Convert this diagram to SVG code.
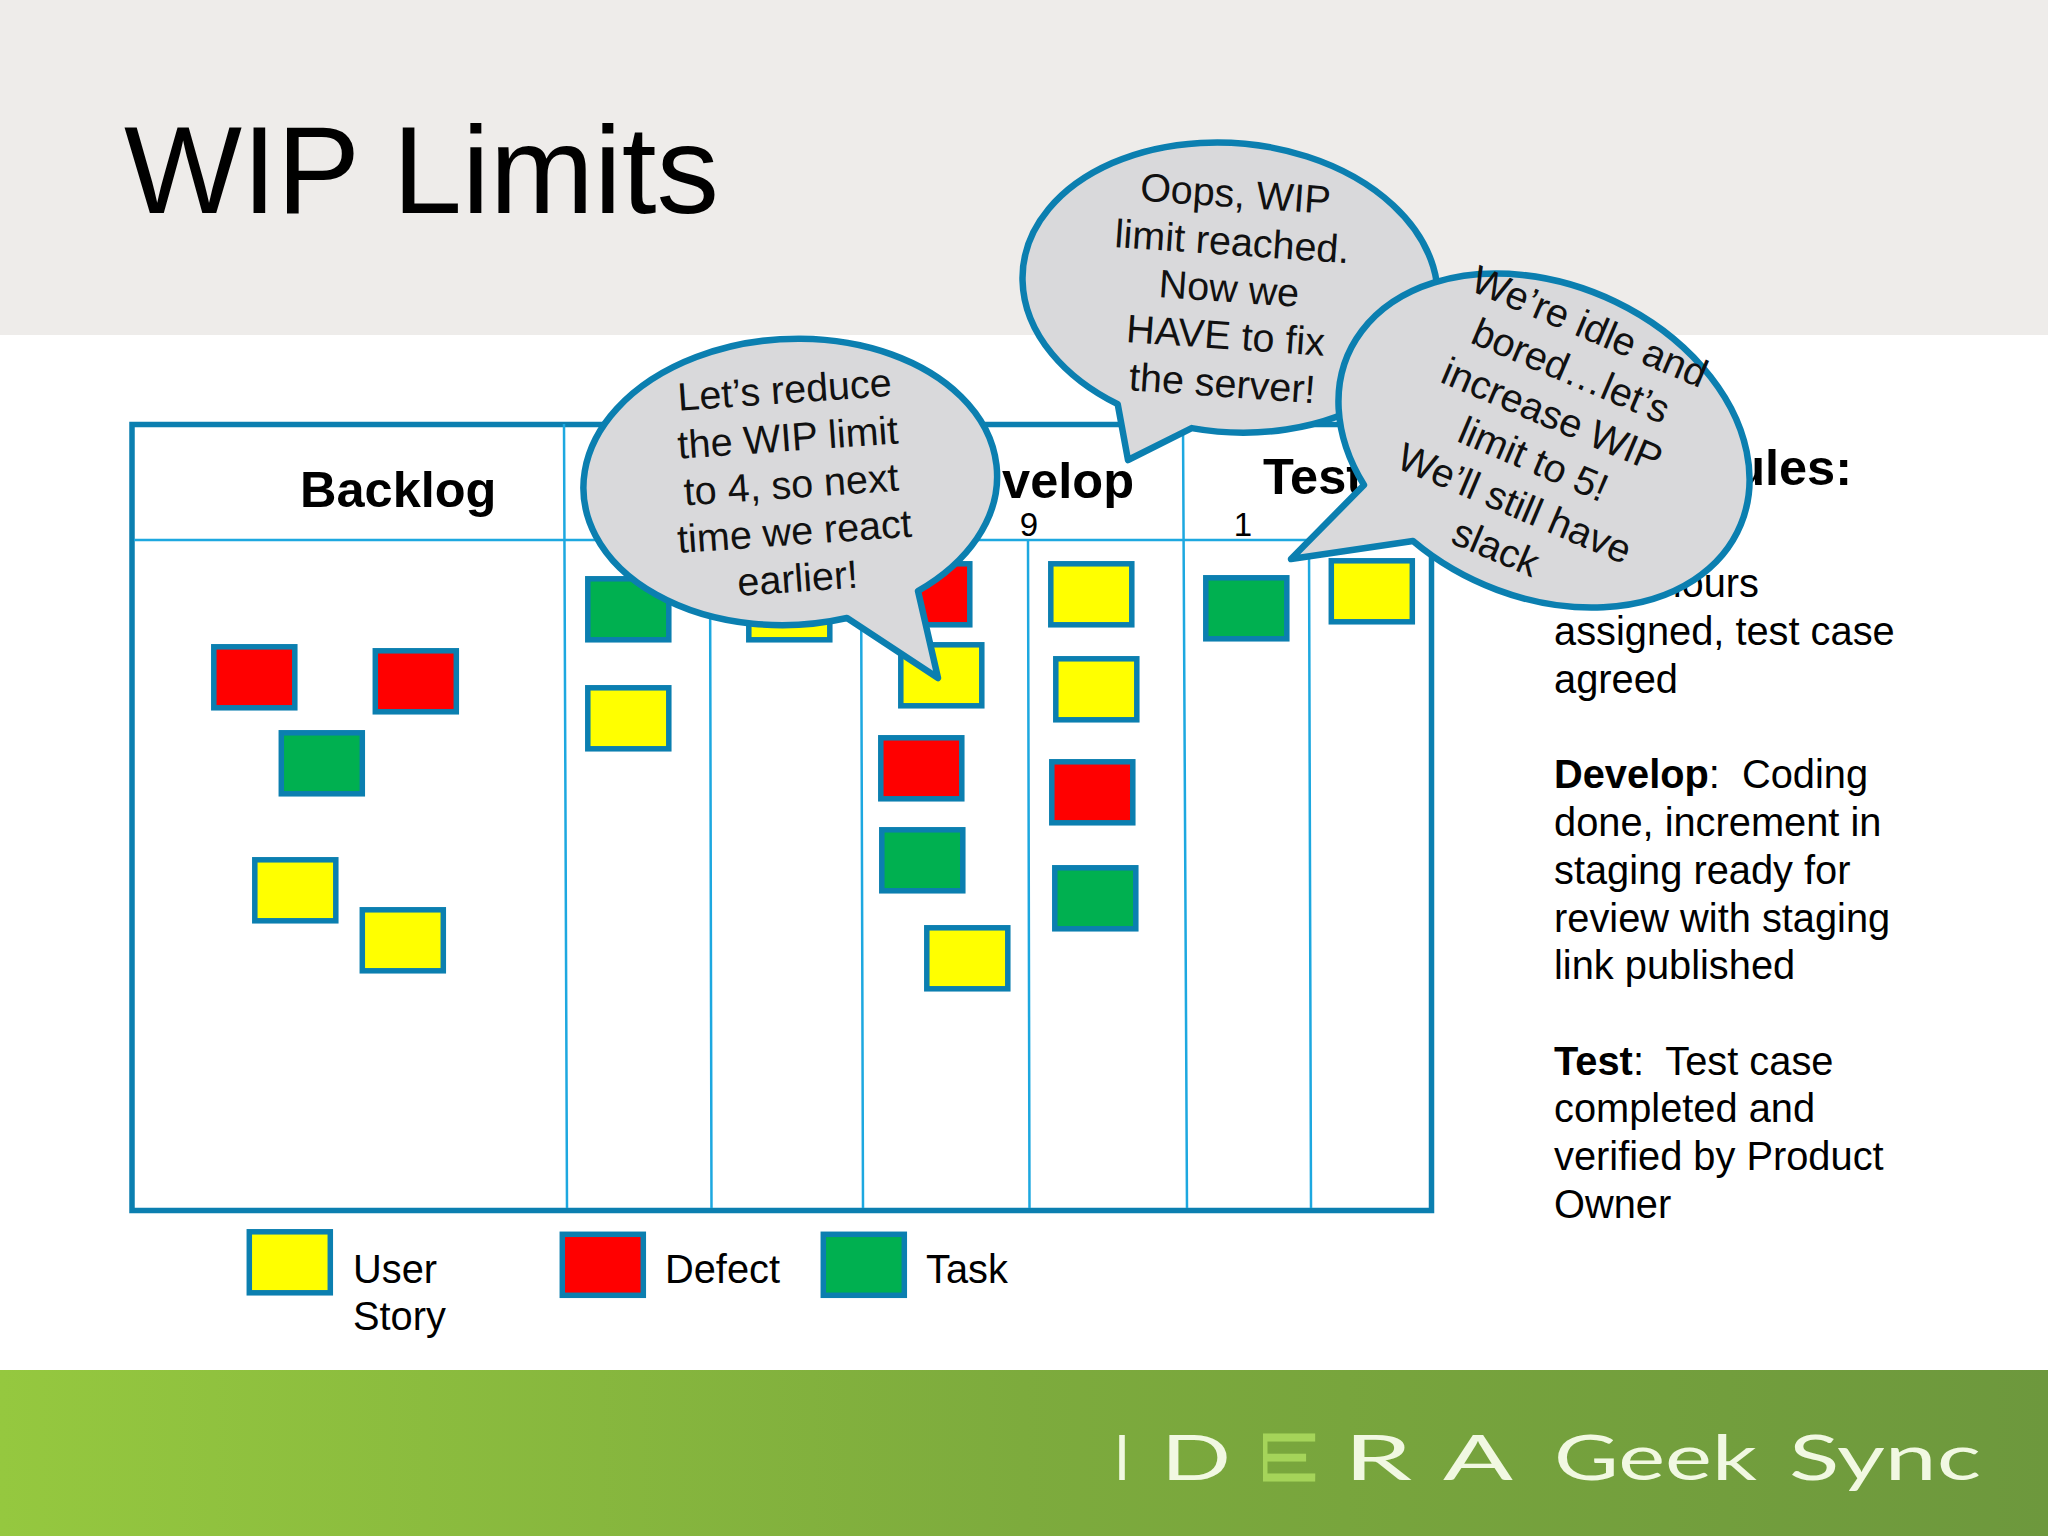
<svg xmlns="http://www.w3.org/2000/svg" width="2048" height="1536" viewBox="0 0 2048 1536">
<defs>
<linearGradient id="foot" x1="0" y1="0" x2="1" y2="0"><stop offset="0" stop-color="#95c83f"/><stop offset="0.5" stop-color="#7dab3d"/><stop offset="1" stop-color="#6d983d"/></linearGradient>
<clipPath id="eclip"><rect x="1263" y="1430" width="55" height="60"/></clipPath>
</defs>
<style>
text{font-family:"Liberation Sans",Arial,sans-serif;fill:#000}
.frame{fill:none;stroke:#0b7fb0;stroke-width:5.5}
.line{fill:none;stroke:#1da8e0;stroke-width:2.5}
.card{stroke:#0b7fb0;stroke-width:5.5;width:81px;height:61px}
.y{fill:#ffff00}.r{fill:#ff0000}.g{fill:#00b050}
.h{font-size:50.500px;font-weight:700}
.b{font-size:39.800px}
.n{font-size:33px;text-anchor:middle}
.bub{fill:#d9d9db;stroke:#0b7fb0;stroke-width:6.500;stroke-linejoin:round}
.bt{font-size:39.500px;text-anchor:middle;fill:#111}
.lg{font-family:Lato,"Open Sans",sans-serif;font-weight:400;font-size:62px;fill:#f1f8e2}
</style>
<rect id="background" width="2048" height="1536" fill="#fff"/>
<rect id="header" width="2048" height="335" fill="#eeecea"/>
<rect id="footer" y="1370" width="2048" height="166" fill="url(#foot)"/>
<text id="title" x="124" y="213" font-size="125">WIP Limits</text>

<g id="connectors">
<rect class="frame" x="132" y="424.500" width="1299.500" height="786"/>
<path class="line" d="M134 540H1429M564 424L567 1208M710 540L711.500 1208M861 540L863 1208M1028 540L1029.500 1208M1183 424L1187 1208M1309 540L1311 1208"/>
</g>

<g id="column-headers">
<text class="h" x="300" y="507">Backlog</text>
<text class="h" x="1134" y="498" text-anchor="end">velop</text>
<text class="h" x="1263" y="494">Test</text>
<text class="n" x="1029" y="536">9</text>
<text class="n" x="1243" y="536">1</text>
</g>

<g id="cards" transform="translate(-0.7 -0.7)">
<rect class="card r" x="214.500" y="647.500"/>
<rect class="card r" x="376" y="651.500"/>
<rect class="card g" x="282" y="733.500"/>
<rect class="card y" x="255.500" y="860.500"/>
<rect class="card y" x="363" y="910.500"/>
<rect class="card g" x="588.500" y="579.500"/>
<rect class="card y" x="588.500" y="688.500"/>
<rect class="card y" x="749.500" y="579.500"/>
<rect class="card r" x="889.500" y="564.500"/>
<rect class="card y" x="901.500" y="645.500"/>
<rect class="card r" x="881.500" y="738.500"/>
<rect class="card g" x="882.500" y="830.500"/>
<rect class="card y" x="927.500" y="928.500"/>
<rect class="card y" x="1051.500" y="564.500"/>
<rect class="card y" x="1056.500" y="659.500"/>
<rect class="card r" x="1052.500" y="762.500"/>
<rect class="card g" x="1055.500" y="868.500"/>
<rect class="card g" x="1206.500" y="578.500"/>
<rect class="card y" x="1332" y="561.500"/>
<rect class="card y" x="250" y="1232.500"/>
<rect class="card r" x="563" y="1235"/>
<rect class="card g" x="824" y="1235"/>
</g>

<g id="legend">
<text class="b" x="353" y="1283">User</text>
<text class="b" x="353" y="1330">Story</text>
<text class="b" x="665" y="1283">Defect</text>
<text class="b" x="926" y="1283">Task</text>
</g>

<g id="rules">
<text class="h" x="1852" y="485" text-anchor="end">ules:</text>
<text class="b" x="1759" y="597" text-anchor="end">hours</text>
<text class="b" x="1554" y="645">assigned, test case</text>
<text class="b" x="1554" y="693">agreed</text>
<text class="b" x="1554" y="788" xml:space="preserve"><tspan font-weight="700">Develop</tspan>:  Coding</text>
<text class="b" x="1554" y="836">done, increment in</text>
<text class="b" x="1554" y="884">staging ready for</text>
<text class="b" x="1554" y="932">review with staging</text>
<text class="b" x="1554" y="979">link published</text>
<text class="b" x="1554" y="1075" xml:space="preserve"><tspan font-weight="700">Test</tspan>:  Test case</text>
<text class="b" x="1554" y="1122">completed and</text>
<text class="b" x="1554" y="1170">verified by Product</text>
<text class="b" x="1554" y="1218">Owner</text>
</g>

<g id="bubble-oops">
<path class="bub" d="M1191.700 428.100L1128 460L1117.700 404.200A208 144.500 5 1 1 1191.700 428.100Z"/>
<g transform="translate(1228 302) rotate(4)">
<text class="bt" y="-95">Oops, WIP</text>
<text class="bt" y="-47">limit reached.</text>
<text class="bt" y="0">Now we</text>
<text class="bt" y="47">HAVE to fix</text>
<text class="bt" y="95">the server!</text>
</g>
</g>

<g id="bubble-reduce">
<path class="bub" d="M847 618L938 678L918 591A207 143 -3 1 0 847 618Z"/>
<g transform="translate(792 498) rotate(-4)">
<text class="bt" y="-95">Let’s reduce</text>
<text class="bt" y="-47">the WIP limit</text>
<text class="bt" y="0">to 4, so next</text>
<text class="bt" y="47">time we react</text>
<text class="bt" y="94">earlier!</text>
</g>
</g>

<g id="bubble-idle">
<path class="bub" d="M1413 541L1291 559L1364 485A214 156 24 1 1 1413 541Z"/>
<g transform="translate(1537.500 449.500) rotate(23)">
<text class="bt" y="-120">We’re idle and</text>
<text class="bt" y="-72">bored…let’s</text>
<text class="bt" y="-24">increase WIP</text>
<text class="bt" y="24">limit to 5!</text>
<text class="bt" y="72">We’ll still have</text>
<text class="bt" y="120">slack</text>
</g>
</g>

<g id="logo">
<text class="lg" x="1114" y="1480" textLength="16" lengthAdjust="spacingAndGlyphs">I</text>
<text class="lg" x="1161" y="1480" textLength="70" lengthAdjust="spacingAndGlyphs">D</text>
<text class="lg" x="1238" y="1480" textLength="80" lengthAdjust="spacingAndGlyphs" clip-path="url(#eclip)" style="fill:#a5d45a;stroke:#a5d45a;stroke-width:3">E</text>
<text class="lg" x="1344" y="1480" textLength="68" lengthAdjust="spacingAndGlyphs">R</text>
<text class="lg" x="1443" y="1480" textLength="70" lengthAdjust="spacingAndGlyphs">A</text>
<text class="lg" x="1554" y="1480" textLength="203" lengthAdjust="spacingAndGlyphs">Geek</text>
<text class="lg" x="1789" y="1480" textLength="192" lengthAdjust="spacingAndGlyphs">Sync</text>
</g>
</svg>
